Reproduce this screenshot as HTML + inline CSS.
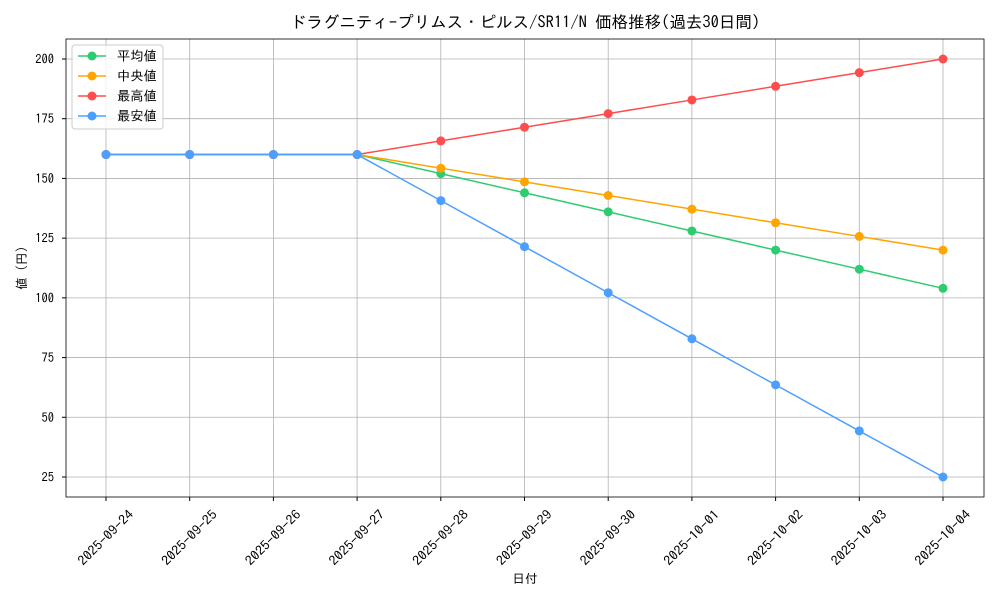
<!DOCTYPE html>
<html><head><meta charset="utf-8"><style>
body{margin:0;background:#fff}
svg text{font-family:"IPAGothic","Noto Sans CJK JP",sans-serif;fill:#000}
</style></head><body>
<svg width="1000" height="600" xmlns="http://www.w3.org/2000/svg">
<rect width="1000" height="600" fill="#fff"/>
<g id="grid" stroke="#b0b0b0" stroke-width="0.8"></g>
<rect x="66" y="39" width="918" height="458" fill="none" stroke="#000" stroke-width="0.8"/>
<g id="ticks"></g>
<g id="series"></g>
<text x="525" y="28" font-size="16.5" text-anchor="middle">ドラグニティ-プリムス・ピルス/SR11/N 価格推移(過去30日間)</text>
<text x="525" y="583" font-size="12.5" text-anchor="middle">日付</text>
<text x="26" y="268" font-size="12.5" text-anchor="middle" transform="rotate(-90 26 268)">値 (円)</text>
<g>
<rect x="72" y="45" width="91" height="84" rx="3" fill="#fff" fill-opacity="0.8" stroke="#ccc"/>
<line x1="78" y1="56" x2="106" y2="56" stroke="#2ecc71" stroke-width="1.5"/><circle cx="92" cy="56" r="4.5" fill="#2ecc71"/><text x="117" y="60.5" font-size="13.3">平均値</text>
<line x1="78" y1="76" x2="106" y2="76" stroke="#ffa500" stroke-width="1.5"/><circle cx="92" cy="76" r="4.5" fill="#ffa500"/><text x="117" y="80.5" font-size="13.3">中央値</text>
<line x1="78" y1="96" x2="106" y2="96" stroke="#ff4d4d" stroke-width="1.5"/><circle cx="92" cy="96" r="4.5" fill="#ff4d4d"/><text x="117" y="100.5" font-size="13.3">最高値</text>
<line x1="78" y1="116" x2="106" y2="116" stroke="#4d9fff" stroke-width="1.5"/><circle cx="92" cy="116" r="4.5" fill="#4d9fff"/><text x="117" y="120.5" font-size="13.3">最安値</text>
</g>
</svg>
<script>
const ns="http://www.w3.org/2000/svg";
const X=i=>106+i*83.7, Y=v=>477-(v-25)*2.3886;
const g=document.getElementById('grid'),t=document.getElementById('ticks'),s=document.getElementById('series');
function el(p,n,a,txt){const e=document.createElementNS(ns,n);for(const k in a)e.setAttribute(k,a[k]);if(txt)e.textContent=txt;p.appendChild(e);return e;}
const dates=["2025-09-24","2025-09-25","2025-09-26","2025-09-27","2025-09-28","2025-09-29","2025-09-30","2025-10-01","2025-10-02","2025-10-03","2025-10-04"];
dates.forEach((d,i)=>{const x=X(i);el(g,'line',{x1:x,x2:x,y1:39,y2:497});el(t,'line',{x1:x,x2:x,y1:497,y2:501,stroke:'#000'});
el(t,'text',{x:x,y:542,'font-size':13,'text-anchor':'middle',textLength:72,lengthAdjust:'spacingAndGlyphs',transform:`rotate(-45 ${x} 538)`},d);});
for(let v=25;v<=200;v+=25){const y=Y(v);el(g,'line',{x1:66,x2:984,y1:y,y2:y});el(t,'line',{x1:62,x2:66,y1:y,y2:y,stroke:'#000'});el(t,'text',{x:54,y:y+4.5,'font-size':12.5,'text-anchor':'end'},v);}
const f=(a,b)=>[160,160,160,160].concat([1,2,3,4,5,6,7].map(k=>160+(b-160)*k/7));
const S=[[f(0,104),'#2ecc71'],[f(0,120),'#ffa500'],[f(0,200),'#ff4d4d'],[f(0,25),'#4d9fff']];
S.forEach(([d,c])=>{el(s,'polyline',{points:d.map((v,i)=>X(i)+','+Y(v)).join(' '),fill:'none',stroke:c,'stroke-width':1.5});
d.forEach((v,i)=>el(s,'circle',{cx:X(i),cy:Y(v),r:4.5,fill:c}));});
</script>
</body></html>
